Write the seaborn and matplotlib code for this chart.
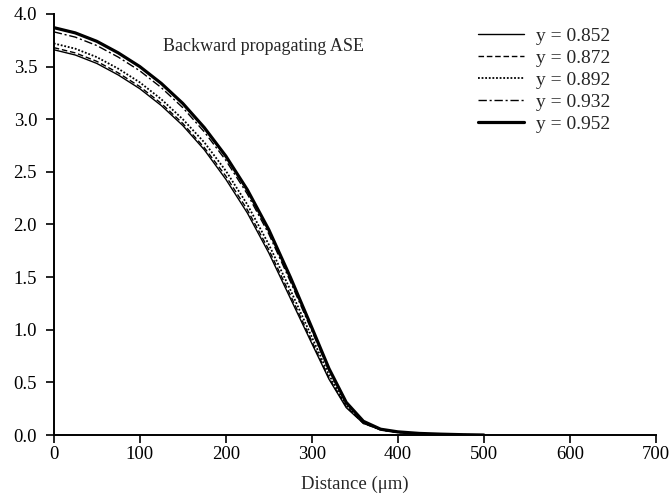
import matplotlib
matplotlib.use("Agg")
import matplotlib.pyplot as plt
import seaborn as sns
import pandas as pd

distance = [0, 25, 50, 75, 100, 125, 150, 175, 200, 225, 250, 275, 300,
            320, 340, 360, 380, 400, 425, 450, 475, 500]
y0852 = [3.66, 3.61, 3.53, 3.42, 3.29, 3.13, 2.94, 2.71, 2.43, 2.11, 1.73, 1.30, 0.87,
         0.53, 0.26, 0.11, 0.05, 0.025, 0.012, 0.006, 0.002, 0.0]
y0872 = [3.68, 3.63, 3.55, 3.44, 3.31, 3.15, 2.96, 2.73, 2.46, 2.14, 1.76, 1.33, 0.89,
         0.54, 0.27, 0.11, 0.05, 0.025, 0.012, 0.006, 0.002, 0.0]
y0892 = [3.72, 3.67, 3.59, 3.48, 3.35, 3.19, 3.00, 2.78, 2.51, 2.19, 1.81, 1.38, 0.93,
         0.57, 0.28, 0.12, 0.05, 0.026, 0.013, 0.007, 0.002, 0.0]
y0932 = [3.83, 3.78, 3.70, 3.59, 3.46, 3.30, 3.11, 2.88, 2.61, 2.29, 1.91, 1.46, 0.99,
         0.61, 0.30, 0.13, 0.055, 0.028, 0.014, 0.007, 0.003, 0.0]
y0952 = [3.87, 3.82, 3.74, 3.63, 3.50, 3.34, 3.15, 2.92, 2.65, 2.33, 1.95, 1.50, 1.02,
         0.63, 0.31, 0.13, 0.055, 0.03, 0.015, 0.008, 0.003, 0.0]

labels = ["y = 0.852", "y = 0.872", "y = 0.892", "y = 0.932", "y = 0.952"]
series = [y0852, y0872, y0892, y0932, y0952]
xticks = [0, 100, 200, 300, 400, 500, 600, 700]
yticks = [0.0, 0.5, 1.0, 1.5, 2.0, 2.5, 3.0, 3.5, 4.0]

sns.set_style("ticks")
plt.rcParams['font.family'] = ['Liberation Serif', 'DejaVu Serif']

styles = ["-", (0, (4, 2)), (0, (1, 1)), (0, (6, 2, 1.5, 2)), "-"]
widths = [1.0, 1.0, 1.3, 1.0, 2.3]

fig = plt.figure(figsize=(6.72, 4.98), dpi=100)
ax = fig.add_axes([0.080, 0.1265, 0.896, 0.8455])

for lab, vals, ls, lw in zip(labels, series, styles, widths):
    df = pd.DataFrame({"Distance": distance, "value": vals})
    sns.lineplot(data=df, x="Distance", y="value", ax=ax, color="black",
                 linestyle=ls, linewidth=lw, label=lab)

ax.set_xlim(0, 700)
ax.set_ylim(0, 4.0)
ax.set_xticks(xticks)
ax.set_yticks(yticks)
ax.set_yticklabels([f"{v:.1f}" for v in yticks])
ax.set_xlabel("Distance (μm)", fontsize=13.5, labelpad=9)
ax.set_ylabel("")
ax.tick_params(axis="both", direction="out", length=6, width=1.2, labelsize=13.5,
               colors="black")
ax.tick_params(axis="x", pad=2)
ax.tick_params(axis="y", pad=6)
for s in ["top", "right"]:
    ax.spines[s].set_visible(False)
for s in ["left", "bottom"]:
    ax.spines[s].set_linewidth(1.4)
    ax.spines[s].set_color("black")

ax.text(127, 3.69, "Backward propagating ASE", fontsize=13, ha="left", va="center")

leg = ax.legend(loc="upper left", bbox_to_anchor=(0.704, 0.968), frameon=False,
                borderpad=0, borderaxespad=0,
                fontsize=14, handlelength=2.4, handletextpad=0.6, labelspacing=0.22)

fig.savefig("out.png", dpi=100)
